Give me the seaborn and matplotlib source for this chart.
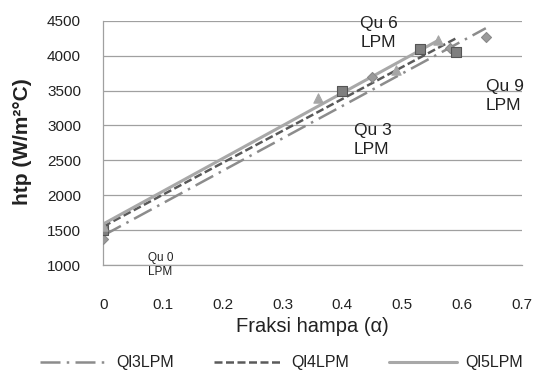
import numpy as np
import pandas as pd
import matplotlib
matplotlib.use("Agg")
import matplotlib.pyplot as plt
import seaborn as sns

# Void fraction (alpha) and heat transfer coefficient for each liquid flow rate,
# measured at gas flow Qu = 0, 3, 6 and 9 LPM
series_names = ["Ql3LPM", "Ql4LPM", "Ql5LPM"]
void_ql3 = [0.0, 0.45, 0.58, 0.64]
htp_ql3 = [1370, 3690, 4110, 4270]
void_ql4 = [0.0, 0.40, 0.53, 0.59]
htp_ql4 = [1500, 3500, 4100, 4050]
void_ql5 = [0.0, 0.36, 0.49, 0.56]
htp_ql5 = [1560, 3390, 3790, 4230]

x_ticks = [0.0, 0.1, 0.2, 0.3, 0.4, 0.5, 0.6, 0.7]
x_tick_labels = ["0", "0.1", "0.2", "0.3", "0.4", "0.5", "0.6", "0.7"]
y_ticks = [1000, 1500, 2000, 2500, 3000, 3500, 4000, 4500]

qu_labels = ["Qu 0\nLPM", "Qu 3\nLPM", "Qu 6\nLPM", "Qu 9\nLPM"]

df = pd.concat([
    pd.DataFrame({"alpha": void_ql3, "htp": htp_ql3, "Ql": series_names[0]}),
    pd.DataFrame({"alpha": void_ql4, "htp": htp_ql4, "Ql": series_names[1]}),
    pd.DataFrame({"alpha": void_ql5, "htp": htp_ql5, "Ql": series_names[2]}),
], ignore_index=True)

sns.set_theme(style="white")
plt.rcParams["font.family"] = ["Liberation Sans", "DejaVu Sans"]

fig = plt.figure(figsize=(5.45, 3.75), dpi=100)
ax = fig.add_axes([0.1895, 0.2933, 0.7677, 0.6515])

grid_col = "#a0a0a0"

# Linear trendlines for each series
trend_styles = {
    "Ql3LPM": dict(color="#8c8c8c", lw=1.8, linestyle=(0, (8, 2.5, 1, 2.5))),
    "Ql4LPM": dict(color="#5a5a5a", lw=1.8, linestyle=(0, (3.2, 1.4))),
    "Ql5LPM": dict(color="#a8a8a8", lw=2.2, linestyle="-"),
}
for name in series_names:
    sub = df[df["Ql"] == name]
    sns.regplot(data=sub, x="alpha", y="htp", ax=ax, scatter=False, ci=None,
                truncate=True, label=name, line_kws=trend_styles[name])

# Measured points
marker_styles = {
    "Ql3LPM": dict(marker="D", s=26, color="#9a9a9a", edgecolor="#8a8a8a"),
    "Ql4LPM": dict(marker="s", s=55, color="#7f7f7f", edgecolor="#555555"),
    "Ql5LPM": dict(marker="^", s=45, color="#a6a6a6", edgecolor="#a6a6a6"),
}
for name in series_names:
    sub = df[df["Ql"] == name]
    sns.scatterplot(data=sub, x="alpha", y="htp", ax=ax, legend=False,
                    linewidth=0.8, zorder=4, **marker_styles[name])

ax.set_xlim(0, 0.7)
ax.set_ylim(1000, 4500)
ax.set_xticks(x_ticks)
ax.set_xticklabels(x_tick_labels)
ax.set_yticks(y_ticks)
ax.set_xlabel("")
ax.set_ylabel("")

ax.yaxis.grid(True, color=grid_col, lw=0.9)
ax.xaxis.grid(False)
for side in ["top", "right"]:
    ax.spines[side].set_visible(False)
for side in ["left", "bottom"]:
    ax.spines[side].set_color(grid_col)
    ax.spines[side].set_linewidth(0.9)

ax.tick_params(axis="y", length=2, width=0.9, color=grid_col, pad=14,
               labelsize=11, labelcolor="#222222")
ax.tick_params(axis="x", length=0, pad=24, labelsize=11, labelcolor="#222222")

# Gas flow annotations
ann = dict(color="#222222", ha="left", va="center", linespacing=1.3, clip_on=False)
ax.text(0.075, 1000, qu_labels[0], fontsize=8.5, **ann)
ax.text(0.419, 2790, qu_labels[1], fontsize=12.5, **ann)
ax.text(0.430, 4324, qu_labels[2], fontsize=12.5, **ann)
ax.text(0.640, 3420, qu_labels[3], fontsize=12.5, **ann)

fig.text(23 / 545, 0.6227, "htp (W/m²°C)", rotation=90, ha="center", va="center",
         fontsize=15, fontweight="bold", color="#222222")
fig.text(312 / 545, 0.128, "Fraksi hampa (α)", ha="center", va="center",
         fontsize=14.5, color="#222222")

handles, labels = ax.get_legend_handles_labels()
fig.legend(handles, labels, loc="center", bbox_to_anchor=(0.5165, 0.032), ncol=3,
           frameon=False, handlelength=4.3, columnspacing=2.5, handletextpad=0.5,
           fontsize=11.5, labelcolor="#222222")

fig.savefig("out.png", dpi=100)
